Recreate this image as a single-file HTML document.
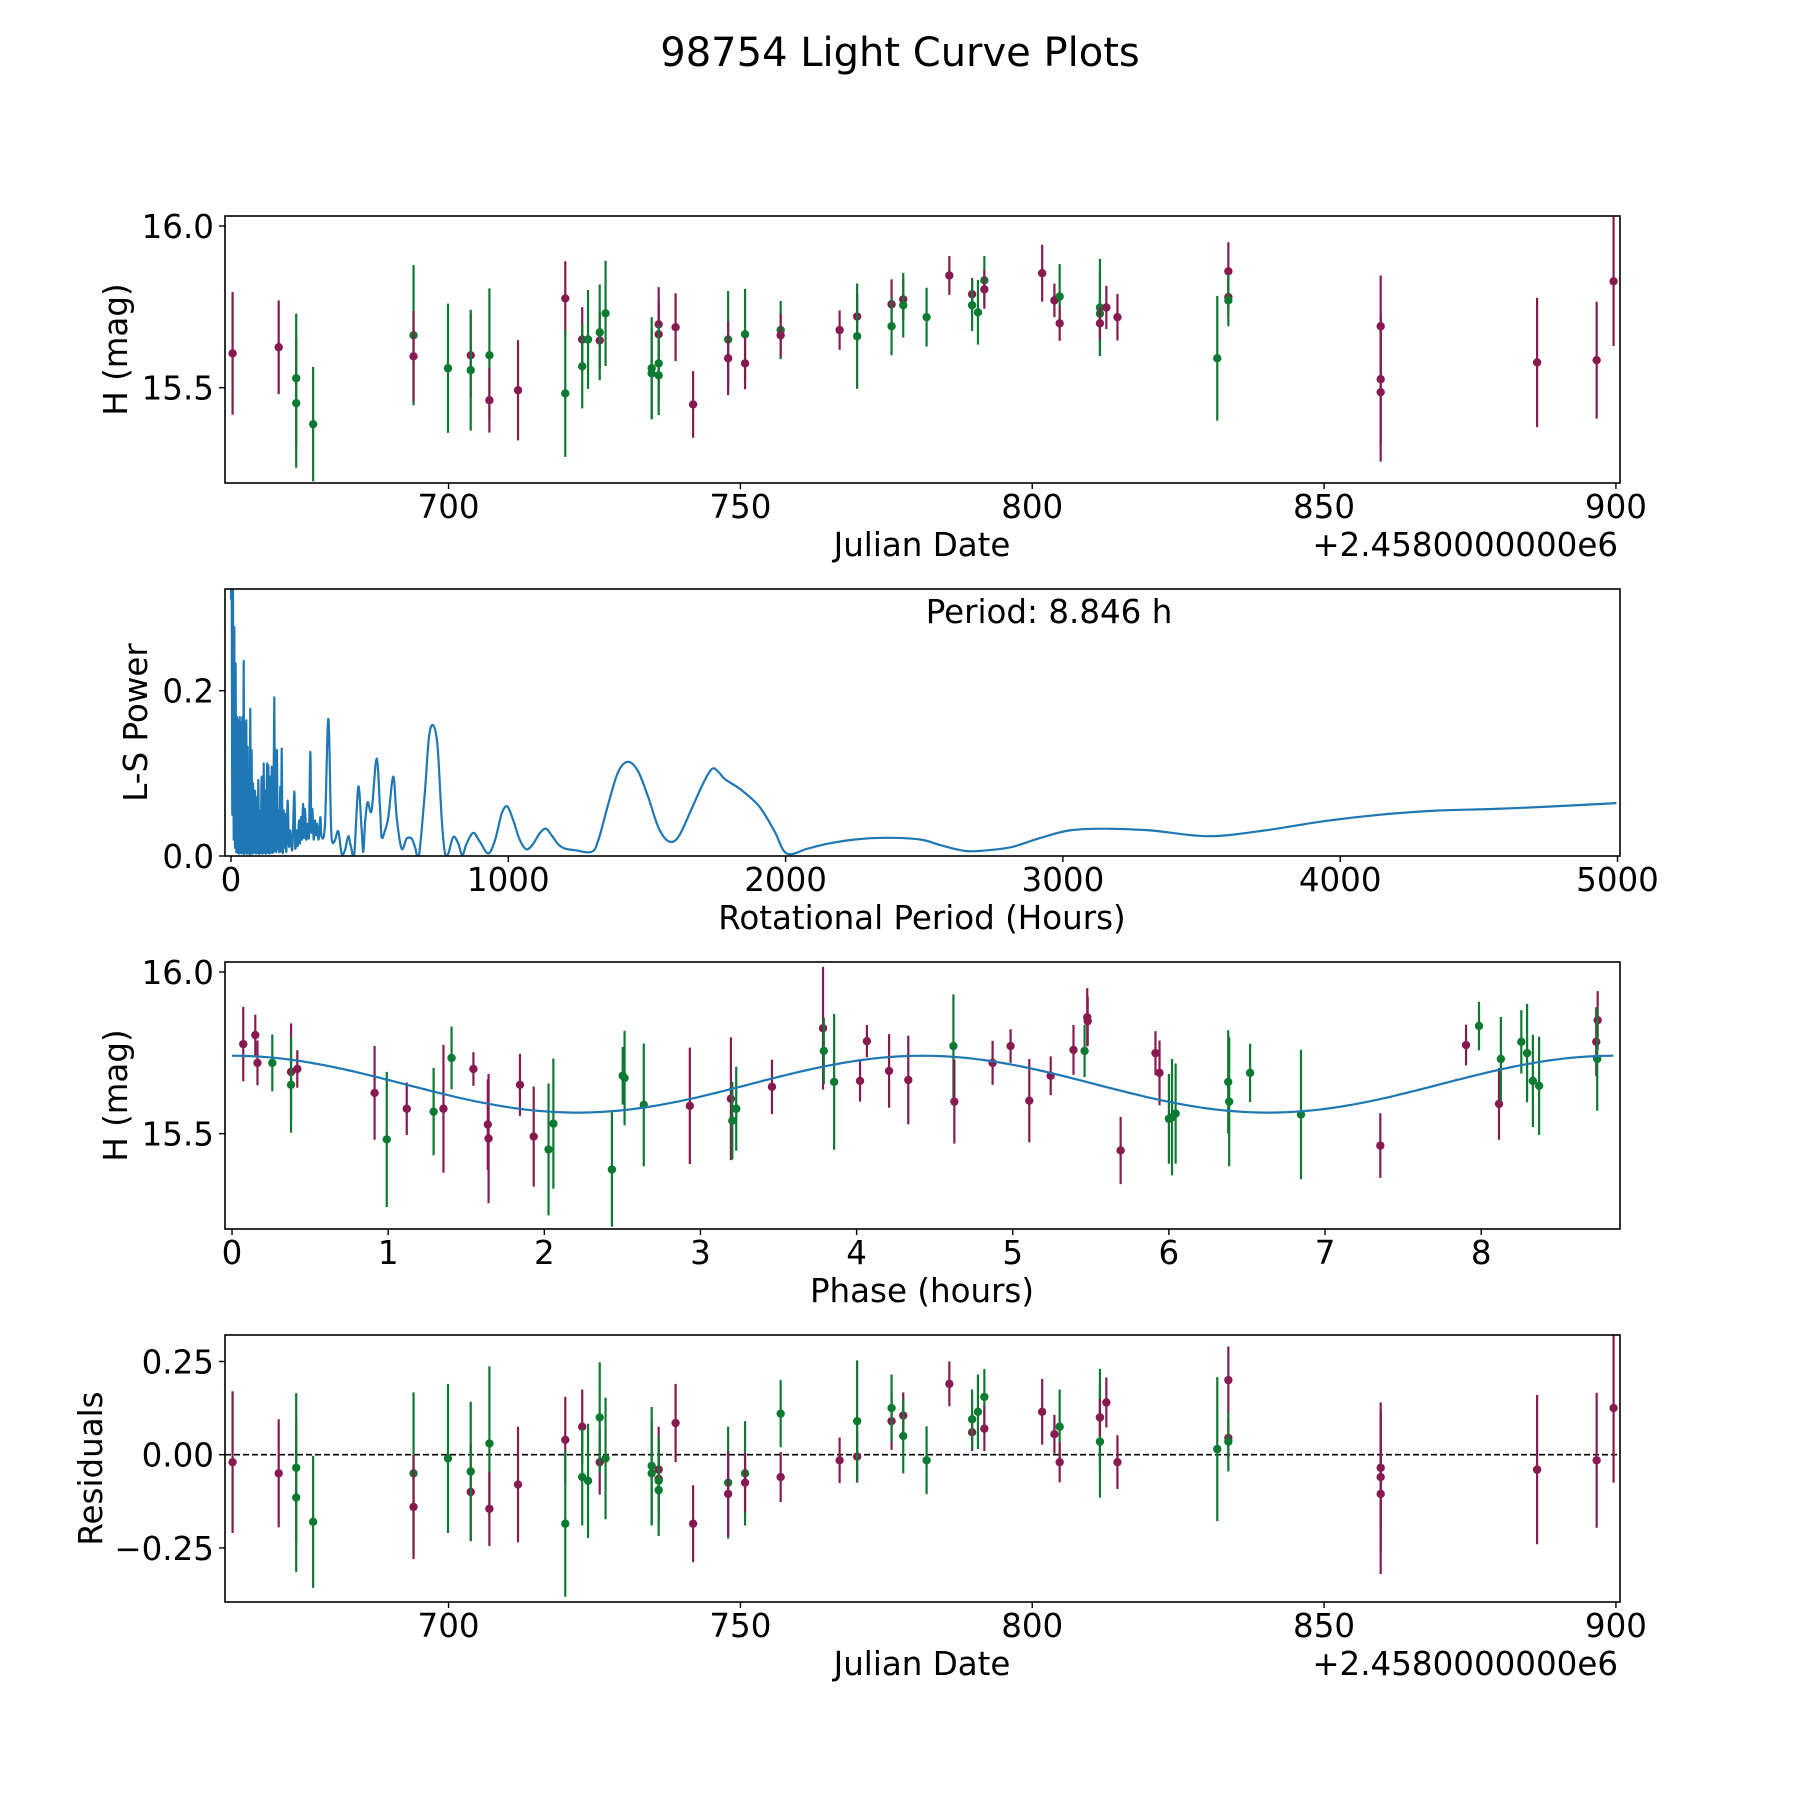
<!DOCTYPE html>
<html><head><meta charset="utf-8"><title>98754 Light Curve Plots</title>
<style>
html,body{margin:0;padding:0;background:#fff;}
svg{display:block;font-family:"DejaVu Sans","Liberation Sans",sans-serif;}
</style></head>
<body>
<svg id="fig" xmlns="http://www.w3.org/2000/svg" width="1800" height="1800" viewBox="0 0 1800 1800">
<rect width="1800" height="1800" fill="#fff"/>
<text x="900" y="66" font-size="40" text-anchor="middle">98754 Light Curve Plots</text>
</svg>
<script>
// ---------- data: panel 1 (light curve) ----------
const jd = [663.0,670.9,673.9,673.9,676.8,694.0,694.0,699.9,703.8,703.8,707.0,707.0,711.9,720.0,720.0,722.9,722.9,723.9,725.9,725.9,726.9,734.8,734.8,736.0,736.0,736.0,736.0,738.9,741.9,747.9,747.9,750.8,750.8,756.9,756.9,767.0,770.0,770.0,775.9,775.9,777.9,777.9,781.9,785.8,789.7,789.7,790.7,791.8,791.8,801.7,803.8,804.7,804.7,811.6,811.6,811.6,812.7,814.6,831.7,833.6,833.6,833.6,859.7,859.7,859.7,886.5,896.7,899.6];
const mag = [15.606,15.625,15.529,15.452,15.387,15.662,15.597,15.56,15.6,15.554,15.6,15.461,15.492,15.776,15.482,15.649,15.566,15.649,15.646,15.671,15.73,15.56,15.544,15.696,15.665,15.575,15.538,15.687,15.448,15.649,15.591,15.665,15.575,15.678,15.662,15.678,15.72,15.659,15.758,15.69,15.773,15.755,15.718,15.847,15.789,15.755,15.733,15.832,15.804,15.854,15.77,15.782,15.699,15.748,15.729,15.699,15.748,15.718,15.591,15.86,15.78,15.77,15.69,15.526,15.486,15.578,15.585,15.829];
const magErr = [0.19,0.145,0.2,0.2,0.177,0.217,0.14,0.2,0.13,0.187,0.207,0.1,0.155,0.115,0.196,0.1,0.13,0.153,0.087,0.148,0.163,0.158,0.14,0.115,0.1,0.12,0.123,0.105,0.103,0.15,0.114,0.14,0.08,0.09,0.067,0.061,0.07,0.163,0.077,0.09,0.062,0.1,0.091,0.06,0.05,0.08,0.1,0.075,0.06,0.088,0.052,0.1,0.054,0.15,0.13,0.05,0.067,0.072,0.193,0.09,0.055,0.08,0.157,0.2,0.215,0.2,0.181,0.2];
const band = "MMGGGGMGMGGMMMGMGGMGGGGMMGGMMGMGMGMMMGMGMGGMMGGGMMMGMGGMMMGMMGMMMMMM";
const resid = [-0.02,-0.05,-0.035,-0.115,-0.18,-0.05,-0.14,-0.01,-0.10,-0.045,0.03,-0.145,-0.08,0.04,-0.185,0.075,-0.06,-0.07,-0.02,0.10,-0.01,-0.03,-0.05,-0.04,-0.065,-0.07,-0.095,0.085,-0.185,-0.075,-0.105,-0.05,-0.075,0.11,-0.06,-0.015,-0.005,0.09,0.09,0.125,0.105,0.05,-0.015,0.19,0.06,0.095,0.115,0.155,0.07,0.115,0.055,0.075,-0.02,0.035,0.10,0.10,0.14,-0.02,0.015,0.2,0.045,0.035,-0.035,-0.06,-0.105,-0.04,-0.015,0.125];
// ---------- data: panel 3 (phased) ----------
const phase = [0.072,0.149,0.163,0.258,0.378,0.378,0.418,0.913,0.991,1.119,1.291,1.354,1.406,1.546,1.638,1.643,1.844,1.932,2.027,2.058,2.433,2.502,2.514,2.637,2.932,3.195,3.204,3.229,3.458,3.785,3.79,3.856,4.022,4.066,4.208,4.331,4.62,4.626,4.871,4.986,5.106,5.243,5.389,5.46,5.477,5.48,5.691,5.914,5.94,6.0,6.02,6.043,6.38,6.386,6.52,6.846,7.354,7.903,7.986,8.114,8.126,8.257,8.294,8.331,8.371,8.737,8.746,8.743];
const phMag = [15.777,15.805,15.719,15.719,15.691,15.651,15.7,15.626,15.482,15.577,15.568,15.577,15.734,15.7,15.528,15.485,15.651,15.491,15.451,15.531,15.389,15.679,15.672,15.589,15.586,15.608,15.54,15.577,15.645,15.826,15.756,15.66,15.663,15.786,15.694,15.666,15.771,15.599,15.719,15.771,15.602,15.679,15.759,15.756,15.86,15.848,15.448,15.749,15.688,15.546,15.551,15.562,15.66,15.599,15.688,15.559,15.463,15.774,15.833,15.592,15.731,15.784,15.749,15.663,15.648,15.784,15.851,15.731];
const phErr = [0.115,0.063,0.069,0.088,0.15,0.148,0.058,0.145,0.209,0.081,0.135,0.198,0.097,0.052,0.14,0.2,0.096,0.155,0.204,0.201,0.177,0.089,0.146,0.19,0.18,0.19,0.12,0.13,0.084,0.19,0.103,0.21,0.064,0.05,0.114,0.137,0.16,0.13,0.068,0.052,0.129,0.06,0.077,0.081,0.09,0.076,0.104,0.068,0.1,0.139,0.18,0.155,0.16,0.2,0.09,0.2,0.1,0.063,0.075,0.111,0.13,0.098,0.152,0.143,0.152,0.107,0.09,0.16];
const phBand = "MMMGMGMMGMGMGMMMMMGGGGGGMMGGMMGGMMMMGMMMMMMGMMMMMGGGGGGGMMGMGGGGGMMG";
const fitParams = [15.653, 0.088, 4.423]; // mean, amplitude, half-period (h)
// ---------- data: panel 2 (periodogram) ----------
const lsPeriod = [0,2.4,4.8,7.2,9.6,12,14.4,16.8,19.2,21.6,24,26.4,28.8,31.3,33.7,36.1,38.5,40.9,43.3,45.7,48.1,50.5,52.9,55.3,57.7,60.1,62.5,64.9,67.3,69.7,72.1,74.5,76.9,79.3,82.9,86.5,90.1,93.8,96.2,98.6,101,103.4,107,110.6,114.2,117.8,120.2,122.6,126.2,129.8,132.2,134.6,138.2,141.8,144.2,146.6,151.4,156.3,158.7,161.1,163.5,165.9,168.3,170.7,174.3,177.9,180.3,182.7,186.3,189.9,192.3,194.7,199.5,204.3,209.1,213.9,221.1,228.4,232,235.6,240.4,245.2,248.8,252.4,256,259.6,263.2,266.8,271.6,276.4,281.2,286.1,289.7,293.3,298.1,302.9,306.5,310.1,316.1,322.1,326.9,338.9,351.0,360.6,365.4,375.0,387.0,399.0,411.1,423.1,432.7,444.7,459.1,471.2,477.2,483.2,492.8,507.2,525.2,537.3,543.3,555.3,567.3,585.3,597.4,615.4,633.4,651.4,663.5,677.9,699.5,713.9,729.6,745.2,759.6,771.6,783.7,801.7,819.7,834.1,849.8,873.8,897.8,927.9,951.9,976.0,996.4,1018.0,1042.1,1066.1,1090.1,1114.2,1135.8,1156.3,1180.3,1204.3,1240.4,1300.5,1324.5,1360.6,1396.6,1432.7,1468.8,1504.8,1540.9,1576.9,1613.0,1661.1,1697.1,1733.2,1757.2,1781.3,1840,1905,1960,2004,2080,2154,2250,2361,2485,2560,2651,2730,2817,2920,3025,3149,3315,3523,3730,3938,4145,4353,4560,4768,4996];
const lsPower = [0.31,0.322,0.05,0.322,0.02,0.277,0.01,0.233,0.005,0.168,0.004,0.164,0.003,0.168,0.004,0.162,0.003,0.168,0.004,0.236,0.003,0.16,0.004,0.164,0.003,0.132,0.004,0.096,0.003,0.178,0.004,0.128,0.003,0.088,0.004,0.079,0.003,0.071,0.004,0.092,0.003,0.055,0.004,0.096,0.003,0.112,0.004,0.079,0.003,0.112,0.004,0.11,0.003,0.096,0.004,0.108,0.005,0.192,0.006,0.128,0.005,0.128,0.01,0.055,0.005,0.084,0.006,0.13,0.005,0.055,0.01,0.051,0.005,0.067,0.012,0.031,0.008,0.078,0.01,0.031,0.012,0.043,0.015,0.047,0.02,0.063,0.022,0.057,0.02,0.039,0.025,0.126,0.03,0.057,0.02,0.043,0.025,0.039,0.02,0.047,0.023,0.039,0.166,0.039,0.017,0.019,0.030,0.003,0.007,0.024,0.011,0.003,0.084,0.031,0.005,0.039,0.065,0.055,0.118,0.059,0.023,0.031,0.047,0.096,0.047,0.009,0.021,0.021,0.011,0.001,0.079,0.144,0.158,0.132,0.047,0.003,0.003,0.023,0.015,0.001,0.015,0.028,0.017,0.003,0.019,0.051,0.060,0.043,0.019,0.008,0.015,0.028,0.033,0.025,0.014,0.009,0.007,0.005,0.019,0.063,0.102,0.114,0.102,0.071,0.035,0.018,0.023,0.057,0.084,0.105,0.102,0.093,0.080,0.06,0.03,0.003,0.009,0.015,0.02,0.022,0.02,0.013,0.006,0.007,0.011,0.022,0.031,0.033,0.031,0.024,0.031,0.042,0.05,0.055,0.057,0.06,0.064];
// ---------- tick labels ----------
const jdTicks = [700,750,800,850,900];
const magTicks = [15.5,16.0];
const lsXTicks = [0,1000,2000,3000,4000,5000];
const lsYTicks = [0.0,0.2];
const phTicks = [0,1,2,3,4,5,6,7,8];
const resTicks = [-0.25,0.00,0.25];

const NS = "http://www.w3.org/2000/svg";
const svg = document.getElementById('fig');
const COL = {M:'#871b51', G:'#0d7a31'};
const FS = 32.5;
function mk(tag, attrs, parent){
  const e = document.createElementNS(NS, tag);
  for (const k in attrs) e.setAttribute(k, attrs[k]);
  (parent||svg).appendChild(e); return e;
}
function lin(d0,d1,p0,p1){ return v => p0 + (v-d0)/(d1-d0)*(p1-p0); }

const L=225, R=1620, H=267;
const tops=[216,589,962,1335];
function axesBox(i, name){
  const g = mk('g',{});
  
  
  return g;
}
function frame(g,top){
  const r = mk('rect',{x:L,y:top,width:R-L,height:H,fill:'none',stroke:'#000','stroke-width':1.6},g);
  
  
}
function xticks(g, vals, sx, top, fmt, name){
  const b = top+H;
  vals.forEach(v=>{
    const x = sx(v);
    const t = mk('line',{x1:x,x2:x,y1:b,y2:b+6,stroke:'#000','stroke-width':1.4},g);
    
    
    const tx = mk('text',{x:x,y:b+35,'font-size':FS,'text-anchor':'middle'},g);
    
    
    tx.textContent = fmt(v);
  });
}
function yticks(g, vals, sy, fmt, name){
  vals.forEach(v=>{
    const y = sy(v);
    const t = mk('line',{x1:L-6,x2:L,y1:y,y2:y,stroke:'#000','stroke-width':1.4},g);
    
    
    const tx = mk('text',{x:L-11,y:y+12,'font-size':FS,'text-anchor':'end'},g);
    
    
    tx.textContent = fmt(v);
  });
}
function label(g, txt, x, y, rot, name){
  const t = mk('text',{x:x,y:y,'font-size':FS,'text-anchor':'middle'},g);
  if (rot) t.setAttribute('transform','rotate(-90 '+x+' '+y+')');
  
  
  t.textContent = txt;
}
function clip(id, top){
  const cp = mk('clipPath',{id:id});
  mk('rect',{x:L,y:top,width:R-L,height:H},cp);
}
function errPoints(g, xs, ys, es, bands, sx, sy, cid){
  const gg = mk('g',{'clip-path':'url(#'+cid+')'},g);
  xs.forEach((xv,i)=>{
    const x = sx(xv), c = COL[bands[i]];
    const l = mk('line',{x1:x,x2:x,y1:sy(ys[i]-es[i]),y2:sy(ys[i]+es[i]),stroke:c,'stroke-width':2.2},gg);
    
    
    const p = mk('circle',{cx:x,cy:sy(ys[i]),r:4.2,fill:c},gg);
    
    
  });
}
function smoothPath(P){
  let d = 'M'+P[0][0].toFixed(1)+','+P[0][1].toFixed(1);
  for(let i=0;i<P.length-1;i++){
    const p0=P[Math.max(0,i-1)], p1=P[i], p2=P[i+1], p3=P[Math.min(P.length-1,i+2)];
    const c1=[p1[0]+(p2[0]-p0[0])/6, p1[1]+(p2[1]-p0[1])/6];
    const c2=[p2[0]-(p3[0]-p1[0])/6, p2[1]-(p3[1]-p1[1])/6];
    d+=' C'+c1[0].toFixed(1)+','+c1[1].toFixed(1)+' '+c2[0].toFixed(1)+','+c2[1].toFixed(1)+' '+p2[0].toFixed(1)+','+p2[1].toFixed(1);
  }
  return d;
}
const f1 = v=>v.toFixed(1), f0 = v=>String(v), f2 = v=>(v<0?'\u2212':'')+Math.abs(v).toFixed(2);

// ---- Panel 1 ----
{
  const top=tops[0], g=axesBox(0,'light-curve-panel');
  const sx=lin(661.7,900.7,L,R), sy=lin(15.205,16.031,top+H,top);
  clip('c1',top);
  errPoints(g, jd, mag, magErr, band, sx, sy, 'c1');
  frame(g,top);
  xticks(g, jdTicks, sx, top, f0, 'x-tick-label');
  yticks(g, magTicks, sy, f1, 'y-tick-label');
  label(g,'Julian Date',922,top+H+73,false,'x-axis-title');
  const o = mk('text',{x:R-2,y:top+H+73,'font-size':FS,'text-anchor':'end'},g);
  
  
  o.textContent='+2.4580000000e6';
  label(g,'H (mag)',127,top+H/2,true,'y-axis-title');
}
// ---- Panel 2 ----
{
  const top=tops[1], g=axesBox(1,'periodogram-panel');
  const sx=lin(-21.6,5009,L,R), sy=lin(0,0.323,top+H,top);
  clip('c2',top);
  const P = lsPeriod.map((p,i)=>[sx(p), sy(lsPower[i])]);
  const pl = mk('path',{d:smoothPath(P),fill:'none',stroke:'#1f77b4','stroke-width':2.2,'stroke-linejoin':'round','clip-path':'url(#c2)'},g);
  
  
  frame(g,top);
  xticks(g, lsXTicks, sx, top, f0, 'x-tick-label');
  yticks(g, lsYTicks, sy, f1, 'y-tick-label');
  label(g,'Rotational Period (Hours)',922,top+H+73,false,'x-axis-title');
  label(g,'L-S Power',147,top+H/2,true,'y-axis-title');
  const t = mk('text',{x:1049,y:top+34,'font-size':FS,'text-anchor':'middle'},g);
  
  
  t.textContent='Period: 8.846 h';
}
// ---- Panel 3 ----
{
  const top=tops[2], g=axesBox(2,'phased-curve-panel');
  const sx=lin(-0.045,8.889,L,R), sy=lin(15.205,16.031,top+H,top);
  clip('c3',top);
  errPoints(g, phase, phMag, phErr, phBand, sx, sy, 'c3');
  const pts=[];
  for(let k=0;k<=300;k++){ const p=8.846*k/300; pts.push(sx(p).toFixed(1)+','+sy(fitParams[0]+fitParams[1]*Math.cos(2*Math.PI*p/fitParams[2])).toFixed(1)); }
  const pl = mk('polyline',{points:pts.join(' '),fill:'none',stroke:'#1f77b4','stroke-width':2.2},g);
  
  
  frame(g,top);
  xticks(g, phTicks, sx, top, f0, 'x-tick-label');
  yticks(g, magTicks, sy, f1, 'y-tick-label');
  label(g,'Phase (hours)',922,top+H+73,false,'x-axis-title');
  label(g,'H (mag)',127,top+H/2,true,'y-axis-title');
}
// ---- Panel 4 ----
{
  const top=tops[3], g=axesBox(3,'residuals-panel');
  const sx=lin(661.7,900.7,L,R), sy=lin(-0.395,0.321,top+H,top);
  clip('c4',top);
  const zl = mk('line',{x1:L,x2:R,y1:sy(0),y2:sy(0),stroke:'#000','stroke-width':1.6,'stroke-dasharray':'6,3'},g);
  
  
  errPoints(g, jd, resid, magErr, band, sx, sy, 'c4');
  frame(g,top);
  xticks(g, jdTicks, sx, top, f0, 'x-tick-label');
  yticks(g, resTicks, sy, f2, 'y-tick-label');
  label(g,'Julian Date',922,top+H+73,false,'x-axis-title');
  const o = mk('text',{x:R-2,y:top+H+73,'font-size':FS,'text-anchor':'end'},g);
  
  
  o.textContent='+2.4580000000e6';
  label(g,'Residuals',102,top+H/2,true,'y-axis-title');
}
</script>
</body></html>
